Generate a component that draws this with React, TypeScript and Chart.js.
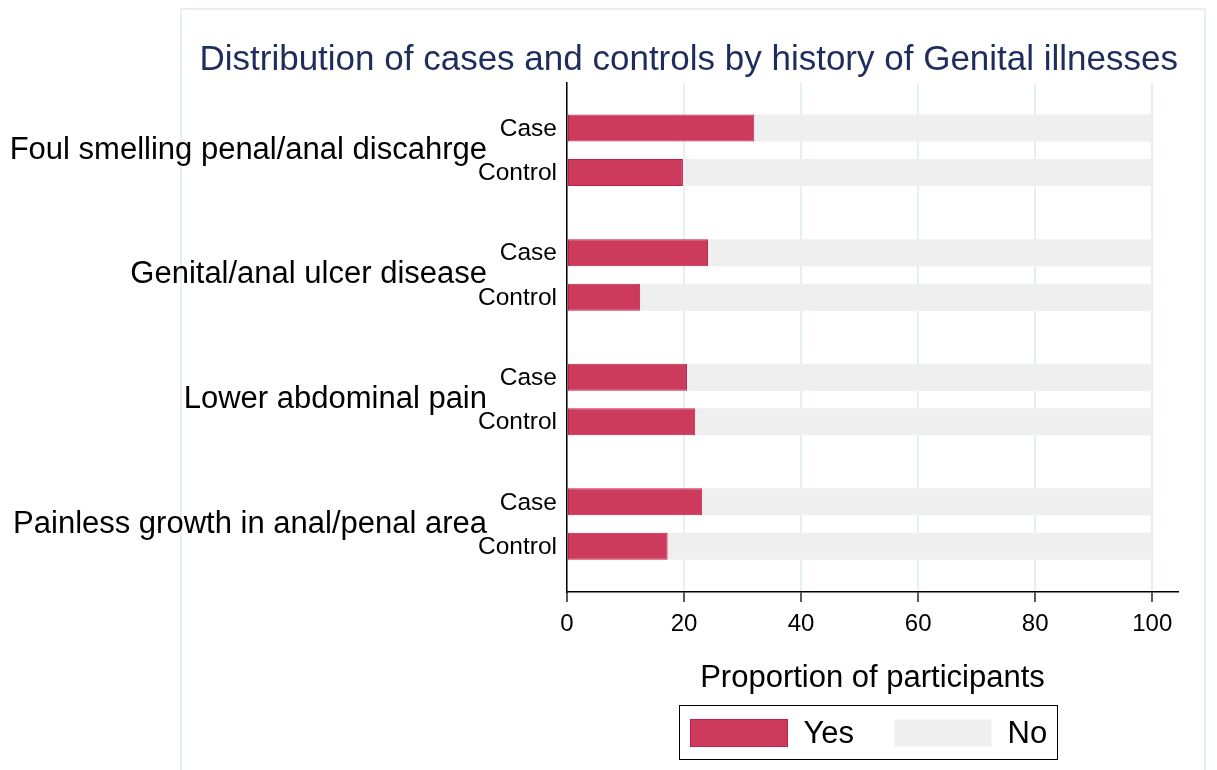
import React, { useEffect, useRef } from "react";
import { Chart, registerables } from "chart.js";

Chart.register(...registerables);

// ---- Data ----
const groups = [
  "Foul smelling penal/anal discahrge",
  "Genital/anal ulcer disease",
  "Lower abdominal pain",
  "Painless growth in anal/penal area",
];
const subgroups = ["Case", "Control"];
const caseYes = [32.0, 24.1, 20.5, 23.1];
const caseNo = [68.0, 75.9, 79.5, 76.9];
const controlYes = [19.8, 12.5, 21.9, 17.2];
const controlNo = [80.2, 87.5, 78.1, 82.8];
const xTicks = [0, 20, 40, 60, 80, 100];
const legendLabels = ["Yes", "No"];
const titleText = "Distribution of cases and controls by history of Genital illnesses";
const xTitle = "Proportion of participants";

// ---- Styles ----
const FONT = "'Liberation Sans', Arial, Helvetica, sans-serif";
const YES = "#cc3a5c";
const YES_BORDER = "#c21d4b";
const NO = "#efefef";
const GRID = "#e6eff2";
const TITLE_COLOR = "#1e2d5c";

const toPts = (arr: number[]) => arr.map((v, i) => ({ x: v, y: i }));

const framePlugin = {
  id: "frame",
  beforeDraw(chart: any) {
    const ctx = chart.ctx;
    ctx.save();
    ctx.fillStyle = "#ffffff";
    ctx.fillRect(0, 0, chart.width, chart.height);
    ctx.strokeStyle = "#e7eff2";
    ctx.lineWidth = 2;
    ctx.strokeRect(181, 9, 1024, 800);
    ctx.restore();
  },
};

const subLabelPlugin = {
  id: "subLabels",
  afterDatasetsDraw(chart: any) {
    const ctx = chart.ctx;
    const ca = chart.chartArea;
    ctx.save();
    ctx.font = `24.5px ${FONT}`;
    ctx.fillStyle = "#000";
    ctx.textAlign = "right";
    ctx.textBaseline = "middle";
    [0, 2].forEach((dsIndex, k) => {
      const meta = chart.getDatasetMeta(dsIndex);
      meta.data.forEach((bar: any) => {
        ctx.fillText(subgroups[k], ca.left - 10, bar.y + 1);
      });
    });
    ctx.restore();
  },
};

const legendPlugin = {
  id: "customLegend",
  afterDraw(chart: any) {
    const ctx = chart.ctx;
    const ca = chart.chartArea;
    const boxW = 378;
    const boxH = 54;
    const cx = (ca.left + ca.right) / 2 - 4.5;
    const left = Math.round(cx - boxW / 2) + 0.5;
    const top = Math.round(ca.bottom + 113) + 0.5;
    ctx.save();
    ctx.strokeStyle = "#000";
    ctx.lineWidth = 1;
    ctx.strokeRect(left, top, boxW, boxH);
    const ds = chart.data.datasets;
    const items = [
      { text: legendLabels[0], fill: ds[0].backgroundColor, stroke: ds[0].borderColor },
      { text: legendLabels[1], fill: ds[1].backgroundColor, stroke: null },
    ];
    const swW = 97;
    const swH = 27;
    items.forEach((it, k) => {
      const sx = left + 11 + k * 204;
      const sy = top + 14;
      ctx.fillStyle = it.fill;
      ctx.fillRect(sx, sy, swW, swH);
      if (it.stroke) {
        ctx.strokeStyle = it.stroke;
        ctx.lineWidth = 1;
        ctx.strokeRect(sx, sy, swW, swH);
      }
      ctx.fillStyle = "#000";
      ctx.font = `31px ${FONT}`;
      ctx.textAlign = "left";
      ctx.textBaseline = "middle";
      ctx.fillText(it.text, sx + swW + 16, sy + swH / 2 + 1);
    });
    ctx.restore();
  },
};

export default function App() {
  const ref = useRef<HTMLCanvasElement>(null);

  useEffect(() => {
    if (!ref.current) return;
    const common = { categoryPercentage: 0.714, barPercentage: 0.607 };
    const chart = new Chart(ref.current, {
      type: "bar",
      data: {
        datasets: [
          {
            label: "Yes",
            stack: "case",
            data: toPts(caseYes),
            backgroundColor: YES,
            borderColor: YES_BORDER,
            borderWidth: 1,
            borderSkipped: false,
            ...common,
          },
          {
            label: "No",
            stack: "case",
            data: toPts(caseNo),
            backgroundColor: NO,
            borderWidth: 0,
            ...common,
          },
          {
            label: "Yes",
            stack: "control",
            data: toPts(controlYes),
            backgroundColor: YES,
            borderColor: YES_BORDER,
            borderWidth: 1,
            borderSkipped: false,
            ...common,
          },
          {
            label: "No",
            stack: "control",
            data: toPts(controlNo),
            backgroundColor: NO,
            borderWidth: 0,
            ...common,
          },
        ] as any,
      },
      options: {
        indexAxis: "y",
        responsive: false,
        devicePixelRatio: 1,
        animation: false,
        layout: { padding: { left: 0, right: 39, top: 39, bottom: 73 } },
        plugins: {
          legend: { display: false },
          tooltip: { enabled: false },
          title: {
            display: true,
            text: titleText,
            align: "end",
            color: TITLE_COLOR,
            font: { size: 35, family: FONT, weight: "normal", lineHeight: 1.2 },
            padding: { top: 0, bottom: 2 },
          },
        },
        scales: {
          x: {
            type: "linear",
            stacked: true,
            min: 0,
            max: 104.4,
            afterBuildTicks: (s: any) => {
              s.ticks = xTicks.map((v) => ({ value: v }));
            },
            afterFit: (s: any) => {
              s.height = 105;
              s.paddingLeft = 0;
              s.paddingRight = 0;
            },
            grid: {
              color: GRID,
              lineWidth: 2,
              drawTicks: true,
              tickLength: 10,
              tickColor: "#000",
              tickWidth: 1.3,
            },
            border: { display: true, color: "#000", width: 1.5 },
            ticks: {
              color: "#000",
              font: { size: 24, family: FONT },
              padding: 8,
              maxRotation: 0,
              autoSkip: false,
            },
            title: {
              display: true,
              text: xTitle,
              color: "#000",
              font: { size: 31, family: FONT, lineHeight: 1.2 },
              padding: { top: 0, bottom: 0 },
            },
          },
          y: {
            type: "linear",
            reverse: true,
            min: -0.54,
            max: 3.545,
            offset: false,
            afterBuildTicks: (s: any) => {
              s.ticks = groups.map((_, i) => ({ value: i }));
            },
            afterFit: (s: any) => {
              s.width = 567;
              s.paddingTop = 0;
              s.paddingBottom = 0;
            },
            grid: { display: false, drawTicks: false, tickLength: 0 },
            border: { display: true, color: "#000", width: 1.5 },
            ticks: {
              color: "#000",
              font: { size: 31, family: FONT },
              padding: 80,
              autoSkip: false,
              callback: (v: any) => groups[v] ?? "",
            },
          },
        },
      } as any,
      plugins: [framePlugin, subLabelPlugin, legendPlugin],
    });
    return () => chart.destroy();
  }, []);

  return (
    <div style={{ position: "fixed", left: 0, top: 0, width: 1217, height: 770, background: "#fff" }}>
      <canvas ref={ref} width={1217} height={770} style={{ display: "block", width: 1217, height: 770 }} />
    </div>
  );
}
